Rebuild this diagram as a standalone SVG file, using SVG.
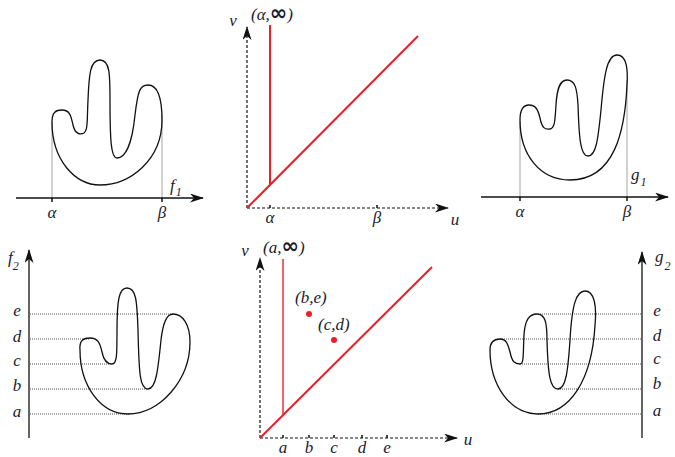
<svg xmlns="http://www.w3.org/2000/svg" width="675" height="457" viewBox="0 0 675 457">
<style>
.curve{fill:none;stroke:#111;stroke-width:1.3}
.axis{fill:none;stroke:#111;stroke-width:1.3}
.dax{fill:none;stroke:#111;stroke-width:1.2;stroke-dasharray:3 2}
.guide{fill:none;stroke:#9a9a9a;stroke-width:0.9}
.dot{fill:none;stroke:#555;stroke-width:1;stroke-dasharray:1 1}
.tick{stroke:#111;stroke-width:1.5}
.red{fill:none;stroke:#e8202a;stroke-width:2}
.redt{fill:none;stroke:#e8202a;stroke-width:1.4}
.lbl{font-family:"Liberation Serif",serif;font-style:italic;font-size:17px;fill:#1c1c2e}
.inf{font-family:"DejaVu Sans",sans-serif;font-style:normal;font-weight:bold;font-size:21px}
.mid{text-anchor:middle}
.sub{font-size:12px}
</style>
<defs>
<marker id="arr" viewBox="0 0 14 9" markerWidth="14" markerHeight="9" refX="13" refY="4.5" orient="auto" markerUnits="userSpaceOnUse">
<path d="M0,0 L14,4.5 L0,9 L4,4.5 Z" fill="#111"/>
</marker>
</defs>

<!-- Panel 1: f1 -->
<g id="panel-f1">
<line class="guide" x1="52" y1="122" x2="52" y2="198"/>
<line class="guide" x1="162" y1="115" x2="162" y2="198"/>
<path class="curve" d="M 52 122 C 52 112, 56 110, 62 110 C 70 110, 71 116, 73 125 C 75 134, 80 135, 84 133 C 88 130, 87 120, 88 100 C 89 75, 90 60, 100 60 C 110 60, 110 75, 110 100 C 110 140, 111 158, 117 158 C 125 158, 132 145, 135 115 C 138 90, 140 85, 148 85 C 158 85, 162 100, 162 120 C 162 160, 130 185, 100 185 C 75 185, 52 160, 52 122 Z"/>
<line class="axis" x1="16" y1="198" x2="203" y2="198" marker-end="url(#arr)"/>
<line class="tick" x1="52" y1="198" x2="52" y2="202"/>
<line class="tick" x1="162" y1="198" x2="162" y2="202"/>
<text class="lbl mid" x="52" y="218">α</text>
<text class="lbl mid" x="162" y="218">β</text>
<text class="lbl" x="170" y="191">f<tspan class="sub" dx="1" dy="5">1</tspan></text>
</g>

<!-- Panel 2: diagram for f1 -->
<g id="panel-dgm1">
<line class="dax" x1="247" y1="208" x2="247" y2="27" marker-end="url(#arr)"/>
<line class="dax" x1="247" y1="208" x2="448" y2="208" marker-end="url(#arr)"/>
<line class="tick" x1="270" y1="205" x2="270" y2="208"/>
<line class="tick" x1="377" y1="205" x2="377" y2="208"/>
<line class="red" x1="247" y1="208" x2="418" y2="36"/>
<line class="red" x1="270" y1="25" x2="270" y2="185"/>
<text class="lbl mid" x="233" y="26">v</text>
<text class="lbl" x="251" y="20">(α,<tspan class="inf">∞</tspan>)</text>
<text class="lbl mid" x="270" y="223">α</text>
<text class="lbl mid" x="377" y="223">β</text>
<text class="lbl mid" x="455" y="225">u</text>
</g>

<!-- Panel 3: g1 -->
<g id="panel-g1">
<line class="guide" x1="520" y1="122" x2="520" y2="197"/>
<line class="guide" x1="627" y1="80" x2="627" y2="197"/>
<path class="curve" d="M 520 120 C 520 110, 523 105, 529 105 C 536 105, 538 110, 540 118 C 542 128, 545 130, 550 129 C 555 128, 555 120, 556 105 C 557 88, 560 80, 567 80 C 575 80, 577 88, 578 105 C 579 135, 580 156, 588 156 C 596 156, 598 140, 601 110 C 604 75, 607 55, 617 55 C 627 55, 628 70, 627 85 C 625 130, 615 180, 570 180 C 540 180, 520 155, 520 120 Z"/>
<line class="axis" x1="481" y1="197" x2="668" y2="197" marker-end="url(#arr)"/>
<line class="tick" x1="520" y1="197" x2="520" y2="201"/>
<line class="tick" x1="627" y1="197" x2="627" y2="201"/>
<text class="lbl mid" x="520" y="217">α</text>
<text class="lbl mid" x="627" y="217">β</text>
<text class="lbl" x="631" y="180">g<tspan class="sub" dx="1" dy="6">1</tspan></text>
</g>

<!-- Panel 4: f2 -->
<g id="panel-f2">
<line class="dot" x1="30" y1="314" x2="173" y2="314"/>
<line class="dot" x1="30" y1="339" x2="90" y2="339"/>
<line class="dot" x1="30" y1="364" x2="112" y2="364"/>
<line class="dot" x1="30" y1="389" x2="148" y2="389"/>
<line class="dot" x1="30" y1="414" x2="130" y2="414"/>
<path class="curve" d="M 80 350 C 79 340, 84 338, 90 338 C 98 338, 100 343, 102 352 C 104 362, 108 364, 112 364 C 117 364, 117 355, 117 330 C 117 300, 119 288, 127 288 C 136 288, 137 300, 138 330 C 139 375, 140 389, 148 389 C 156 389, 158 370, 161 340 C 163 322, 167 314, 173 314 C 183 314, 190 325, 190 342 C 190 380, 160 414, 128 414 C 100 414, 80 385, 80 350 Z"/>
<line class="axis" x1="29" y1="438" x2="29" y2="250" marker-end="url(#arr)"/>
<text class="lbl" x="8" y="263">f<tspan class="sub" dx="0" dy="7">2</tspan></text>
<text class="lbl mid" x="17" y="316">e</text>
<text class="lbl mid" x="17" y="342">d</text>
<text class="lbl mid" x="17" y="366">c</text>
<text class="lbl mid" x="17" y="391">b</text>
<text class="lbl mid" x="17" y="417">a</text>
</g>

<!-- Panel 5: diagram for f2/g2 -->
<g id="panel-dgm2">
<line class="dax" x1="260" y1="438" x2="260" y2="258" marker-end="url(#arr)"/>
<line class="dax" x1="260" y1="438" x2="457" y2="438" marker-end="url(#arr)"/>
<line class="tick" x1="283" y1="435" x2="283" y2="438"/>
<line class="tick" x1="309" y1="435" x2="309" y2="438"/>
<line class="tick" x1="334" y1="435" x2="334" y2="438"/>
<line class="tick" x1="362" y1="435" x2="362" y2="438"/>
<line class="tick" x1="387" y1="435" x2="387" y2="438"/>
<line class="red" x1="260" y1="438" x2="432" y2="267"/>
<line class="redt" x1="283" y1="259" x2="283" y2="415"/>
<circle cx="309" cy="314" r="3" fill="#e8202a"/>
<circle cx="334" cy="340" r="3" fill="#e8202a"/>
<text class="lbl mid" x="245" y="256">v</text>
<text class="lbl" x="263" y="253">(a,<tspan class="inf">∞</tspan>)</text>
<text class="lbl" x="295" y="303">(b,e)</text>
<text class="lbl" x="318" y="330">(c,d)</text>
<text class="lbl mid" x="283" y="453">a</text>
<text class="lbl mid" x="309" y="453">b</text>
<text class="lbl mid" x="334" y="453">c</text>
<text class="lbl mid" x="362" y="453">d</text>
<text class="lbl mid" x="387" y="453">e</text>
<text class="lbl mid" x="468" y="445">u</text>
</g>

<!-- Panel 6: g2 -->
<g id="panel-g2">
<line class="dot" x1="538" y1="314" x2="642" y2="314"/>
<line class="dot" x1="500" y1="339" x2="642" y2="339"/>
<line class="dot" x1="520" y1="364" x2="642" y2="364"/>
<line class="dot" x1="558" y1="389" x2="642" y2="389"/>
<line class="dot" x1="538" y1="414" x2="642" y2="414"/>
<path class="curve" d="M 490 350 C 490 342, 494 339, 500 339 C 507 339, 508 345, 510 352 C 512 362, 515 364, 520 364 C 524 364, 523 355, 524 335 C 525 320, 529 314, 537 314 C 545 314, 547 322, 547 340 C 548 375, 550 389, 558 389 C 566 389, 568 370, 570 340 C 572 305, 576 291, 585 291 C 594 291, 597 305, 595 325 C 592 380, 570 414, 538 414 C 510 414, 490 385, 490 350 Z"/>
<line class="axis" x1="642" y1="438" x2="642" y2="252" marker-end="url(#arr)"/>
<text class="lbl" x="655" y="262">g<tspan class="sub" dx="1" dy="8">2</tspan></text>
<text class="lbl mid" x="657" y="316">e</text>
<text class="lbl mid" x="657" y="341">d</text>
<text class="lbl mid" x="657" y="364">c</text>
<text class="lbl mid" x="657" y="389">b</text>
<text class="lbl mid" x="657" y="416">a</text>
</g>
</svg>
